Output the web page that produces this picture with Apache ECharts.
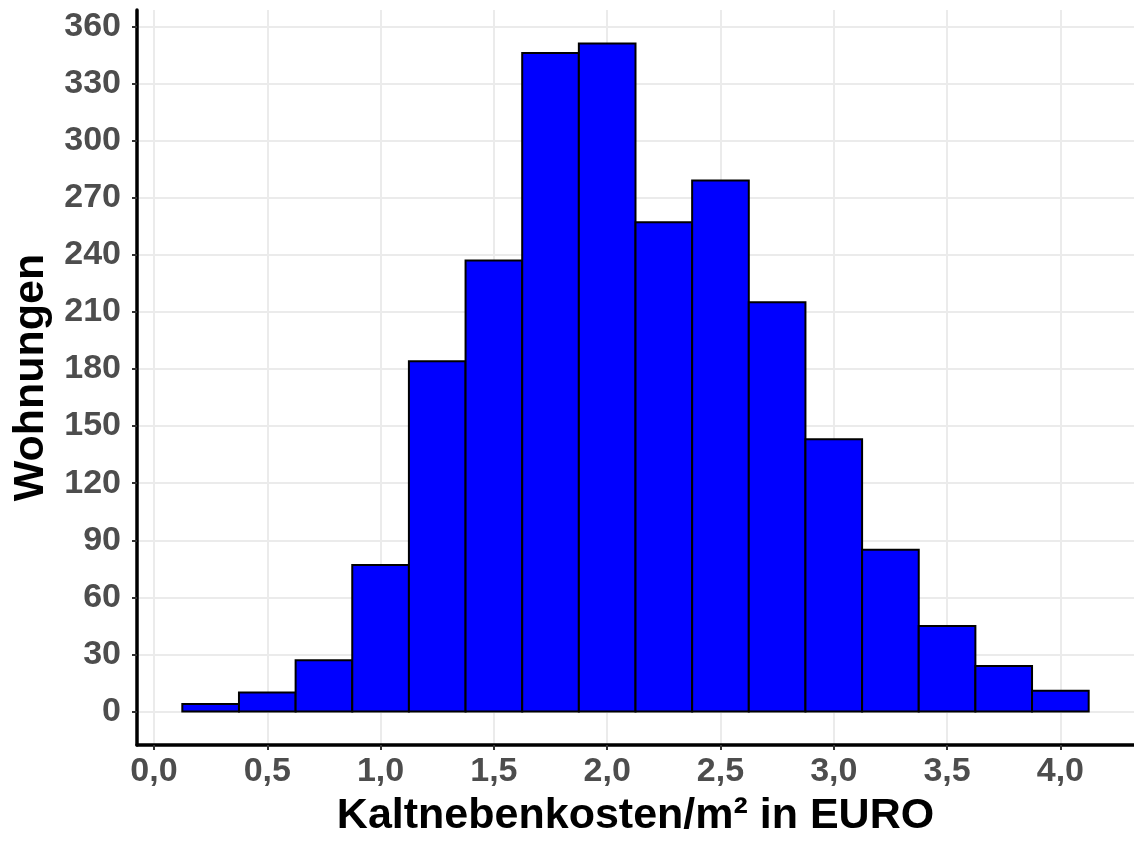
<!DOCTYPE html>
<html>
<head>
<meta charset="utf-8">
<script src="https://cdn.jsdelivr.net/npm/echarts@6/dist/echarts.min.js"></script>
<style>
html,body{margin:0;padding:0;background:#fff;}
#chart{width:1134px;height:843px;}
</style>
</head>
<body>
<div id="chart"></div>
<script>
// Histogram bins (width 0.25)
const binStarts = [0.125,0.375,0.625,0.875,1.125,1.375,1.625,1.875,2.125,2.375,2.625,2.875,3.125,3.375,3.625,3.875];
const binEnds   = [0.375,0.625,0.875,1.125,1.375,1.625,1.875,2.125,2.375,2.625,2.875,3.125,3.375,3.625,3.875,4.125];
const counts    = [4,10,27,77,184,237,346,351,257,279,215,143,85,45,24,11];

const xTickValues = [0,0.5,1,1.5,2,2.5,3,3.5,4];
const xTickLabels = ['0,0','0,5','1,0','1,5','2,0','2,5','3,0','3,5','4,0'];
const yTickValues = [0,30,60,90,120,150,180,210,240,270,300,330,360];
const yTickLabels = ['0','30','60','90','120','150','180','210','240','270','300','330','360'];

const xTitle = 'Kaltnebenkosten/m² in EURO';
const yTitle = 'Wohnungen';

const data = binStarts.map((s, i) => [s, binEnds[i], counts[i]]);

const chart = echarts.init(document.getElementById('chart'), null, {renderer: 'canvas'});
const font = "'Liberation Sans', Arial, Helvetica, sans-serif";

const option = {
  backgroundColor: '#ffffff',
  animation: false,
  grid: {left: 137, top: 10, width: 1001, bottom: 94, containLabel: false},
  xAxis: {
    type: 'value',
    min: -0.075,
    max: 4.325,
    name: xTitle,
    nameLocation: 'middle',
    nameGap: 50,
    nameTextStyle: {fontFamily: font, fontSize: 43, fontWeight: 'bold', color: '#000'},
    axisLine: {onZero: false, lineStyle: {color: '#000', width: 3.5}},
    axisTick: {show: true, customValues: xTickValues, length: 5, lineStyle: {color: '#333', width: 2}},
    axisLabel: {
      customValues: xTickValues,
      margin: 10,
      fontFamily: font, fontSize: 34, fontWeight: 'bold', color: '#4d4d4d',
      formatter: function (v) {
        const i = xTickValues.findIndex(t => Math.abs(t - v) < 1e-9);
        return i >= 0 ? xTickLabels[i] : '';
      }
    },
    splitLine: {show: true, lineStyle: {color: '#ebebeb', width: 2}}
  },
  yAxis: {
    type: 'value',
    min: -17.55,
    max: 368.55,
    name: yTitle,
    nameLocation: 'middle',
    nameRotate: 90,
    nameGap: 84,
    nameTextStyle: {fontFamily: font, fontSize: 43, fontWeight: 'bold', color: '#000'},
    axisLine: {show: true, onZero: false, lineStyle: {color: '#000', width: 3.5}},
    axisTick: {show: true, customValues: yTickValues, length: 5, lineStyle: {color: '#333', width: 2}},
    axisLabel: {
      customValues: yTickValues,
      margin: 16,
      fontFamily: font, fontSize: 34, fontWeight: 'bold', color: '#4d4d4d',
      formatter: function (v) {
        const i = yTickValues.findIndex(t => Math.abs(t - v) < 1e-9);
        return i >= 0 ? yTickLabels[i] : '';
      }
    },
    splitLine: {show: true, lineStyle: {color: '#ebebeb', width: 2}}
  },
  series: [{
    type: 'custom',
    data: data,
    encode: {x: [0, 1], y: 2},
    renderItem: function (params, api) {
      const p0 = api.coord([api.value(0), api.value(2)]);
      const p1 = api.coord([api.value(1), 0]);
      return {
        type: 'rect',
        shape: {x: p0[0], y: p0[1], width: p1[0] - p0[0], height: p1[1] - p0[1]},
        style: {fill: '#0000ff', stroke: '#000000', lineWidth: 2}
      };
    }
  }]
};
chart.setOption(option);
</script>
</body>
</html>
